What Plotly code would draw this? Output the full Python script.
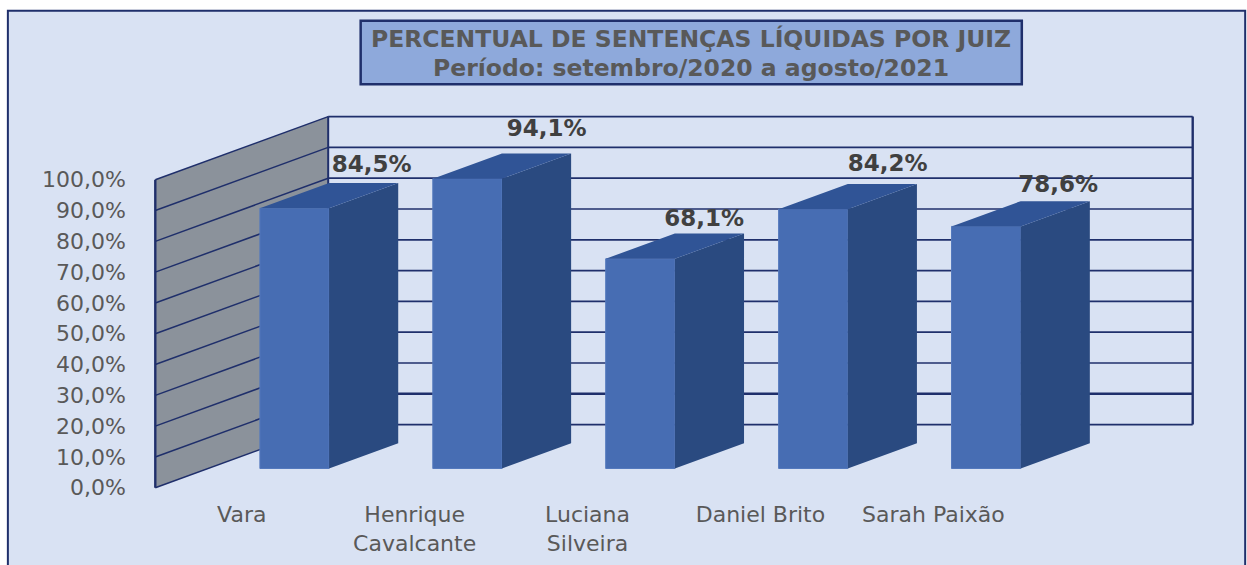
import plotly.graph_objects as go

# ---- data ----
categories = ["Vara", "Henrique<br>Cavalcante", "Luciana<br>Silveira", "Daniel Brito", "Sarah Paixão"]
values = [84.5, 94.1, 68.1, 84.2, 78.6]
y_ticks = [0, 10, 20, 30, 40, 50, 60, 70, 80, 90, 100]
y_tick_labels = ["0,0%", "10,0%", "20,0%", "30,0%", "40,0%", "50,0%", "60,0%", "70,0%", "80,0%", "90,0%", "100,0%"]
title_line1 = "PERCENTUAL DE SENTENÇAS LÍQUIDAS POR JUIZ"
title_line2 = "Período: setembro/2020 a agosto/2021"

# ---- oblique projection (data units) ----
WALL_RISE = 20.5      # percent units a point rises from the front to the back of the floor
BAR_START = 0.305     # depth of the bars' front faces
BAR_DEPTH = 0.40
BAR_WIDTH = 0.40
XMIN, XMAX = -0.5, 5.5

# label nudges relative to the back-centre of each bar top (data units)
label_dx = [0.047, 0.058, -0.03, 0.03, 0.017]
label_dy = [5.5, 7.6, 4.4, 6.0, 4.7]

# ---- pixel layout ----
W, H = 1247, 565
PX_X0, PX_PER_X = 155.0, 173.0
PX_Y0, PX_PER_Y = 487.5, 3.08
x_range = [-0.6, 5.6]
y_range = [-3.0, 122.0]
m_l = PX_X0 + PX_PER_X * (x_range[0] + 0.5)
m_r = W - (PX_X0 + PX_PER_X * (x_range[1] + 0.5))
m_b = H - (PX_Y0 - PX_PER_Y * y_range[0])
m_t = PX_Y0 - PX_PER_Y * y_range[1]
def pap_x(px): return (px - m_l) / (W - m_l - m_r)
def pap_y(py): return (H - m_b - py) / (H - m_b - m_t)

INK = "#1F2F6B"
FRONT, SIDE, TOP = "#476DB3", "#2A4A80", "#305496"
TXT = "#595959"
FONT = "DejaVu Sans"

shapes = []
# panel and title box
shapes.append(dict(type="rect", xref="paper", yref="paper", layer="below",
                   x0=pap_x(7.5), x1=pap_x(1245.5), y0=pap_y(575), y1=pap_y(10.5),
                   fillcolor="#D9E2F3", line=dict(color=INK, width=2)))
shapes.append(dict(type="rect", xref="paper", yref="paper", layer="below",
                   x0=pap_x(360.5), x1=pap_x(1022), y0=pap_y(84), y1=pap_y(20.5),
                   fillcolor="#8EA9DB", line=dict(color=INK, width=2.5)))
# side wall
top_t, bot_t = max(y_ticks), min(y_ticks)
shapes.append(dict(type="path", layer="below", xref="x", yref="y",
                   path=f"M {XMIN} {bot_t} L {XMIN} {top_t} L {XMIN+1} {top_t+WALL_RISE} L {XMIN+1} {bot_t+WALL_RISE} Z",
                   fillcolor="#8B929B", line=dict(width=0)))
# gridlines: along the wall, then along the back plane
for t in y_ticks:
    back_w = 2.5 if t == 10 else 1.7
    shapes.append(dict(type="line", layer="below", xref="x", yref="y",
                       x0=XMIN, x1=XMIN + 1, y0=t, y1=t + WALL_RISE, line=dict(color=INK, width=1.5)))
    shapes.append(dict(type="line", layer="below", xref="x", yref="y",
                       x0=XMIN + 1, x1=XMAX, y0=t + WALL_RISE, y1=t + WALL_RISE, line=dict(color=INK, width=back_w)))
# wall edges
shapes.append(dict(type="line", layer="below", xref="x", yref="y", x0=XMIN, x1=XMIN,
                   y0=bot_t, y1=top_t, line=dict(color=INK, width=2.4)))
shapes.append(dict(type="line", layer="below", xref="x", yref="y", x0=XMIN + 1, x1=XMIN + 1,
                   y0=bot_t + WALL_RISE, y1=top_t + WALL_RISE, line=dict(color=INK, width=2)))
shapes.append(dict(type="line", layer="below", xref="x", yref="y", x0=XMAX, x1=XMAX,
                   y0=bot_t + WALL_RISE, y1=top_t + WALL_RISE, line=dict(color=INK, width=2.4)))

idx = list(range(len(categories)))
base = BAR_START * WALL_RISE
rise = BAR_DEPTH * WALL_RISE
centers = [i + BAR_START for i in idx]

side_x, side_y, top_x, top_y = [], [], [], []
for c, v in zip(centers, values):
    xl, xr = c - BAR_WIDTH / 2, c + BAR_WIDTH / 2
    ytop = base + v
    side_x += [xr, xr, xr + BAR_DEPTH, xr + BAR_DEPTH, xr, None]
    side_y += [base, ytop, ytop + rise, base + rise, base, None]
    top_x += [xl, xr, xr + BAR_DEPTH, xl + BAR_DEPTH, xl, None]
    top_y += [ytop, ytop, ytop + rise, ytop + rise, ytop, None]

fig = go.Figure()
fig.add_trace(go.Bar(x=centers, y=values, base=[base] * len(values), width=BAR_WIDTH,
                     marker=dict(color=FRONT, line=dict(color="#5479BD", width=1)),
                     hoverinfo="skip", showlegend=False))
fig.add_trace(go.Scatter(x=side_x, y=side_y, mode="lines", fill="toself", fillcolor=SIDE,
                         line=dict(width=0, color=SIDE), hoverinfo="skip", showlegend=False))
fig.add_trace(go.Scatter(x=top_x, y=top_y, mode="lines", fill="toself", fillcolor=TOP,
                         line=dict(width=0, color=TOP), hoverinfo="skip", showlegend=False))
fig.add_trace(go.Scatter(
    x=[c + BAR_DEPTH + dx for c, dx in zip(centers, label_dx)],
    y=[base + v + rise + dy for v, dy in zip(values, label_dy)],
    mode="text", text=[f"{v:.1f}%".replace(".", ",") for v in values],
    textposition="middle center",
    textfont=dict(family=FONT, size=23, color="#404040", weight="bold"),
    hoverinfo="skip", showlegend=False, cliponaxis=False))

fig.update_layout(
    width=W, height=H, autosize=False,
    margin=dict(l=m_l, r=m_r, t=m_t, b=m_b, pad=0, autoexpand=False),
    paper_bgcolor="white", plot_bgcolor="rgba(0,0,0,0)",
    showlegend=False, barmode="overlay",
    shapes=shapes,
    title=dict(
        text=f"<b>{title_line1}</b>",
        x=691 / W, xanchor="center",
        y=1 - 39 / H, yanchor="middle",
        font=dict(family=FONT, size=23.5, color=TXT)),
    annotations=[dict(text=f"<b>{title_line2}</b>", xref="paper", yref="paper", showarrow=False,
                      x=pap_x(691), y=pap_y(68), xanchor="center", yanchor="middle",
                      font=dict(family=FONT, size=23.5, color=TXT))],
    xaxis=dict(range=x_range, tickmode="array", tickvals=idx, ticktext=categories,
               showgrid=False, zeroline=False, showline=False, ticks="", automargin=False,
               tickfont=dict(family=FONT, size=22, color=TXT), ticklabelstandoff=2),
    yaxis=dict(range=y_range, tickmode="array", tickvals=y_ticks, ticktext=y_tick_labels,
               showgrid=False, zeroline=False, showline=False, ticks="", automargin=False,
               tickfont=dict(family=FONT, size=22, color=TXT), ticklabelstandoff=11),
)

fig.write_html("out.html", config={"displayModeBar": False},
               post_script="document.body.style.margin='0';document.documentElement.style.overflow='hidden';")
